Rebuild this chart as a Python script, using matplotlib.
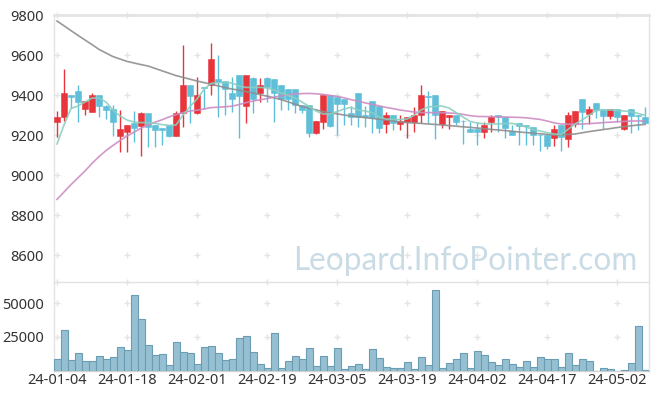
import matplotlib
matplotlib.use("Agg")
import matplotlib.pyplot as plt

# 일봉 데이터
opens = [9267, 9288, 9400, 9420, 9330, 9317, 9400, 9345, 9330, 9197,
         9217, 9258, 9247, 9308, 9250, 9233, 9250, 9197, 9308, 9450,
         9308, 9440, 9450, 9480, 9470, 9408, 9500, 9345, 9487, 9408,
         9487, 9480, 9450, 9428, 9428, 9350, 9350, 9208, 9267, 9400,
         9392, 9380, 9308, 9408, 9300, 9370, 9345, 9255, 9300, 9255,
         9267, 9267, 9300, 9397, 9400, 9255, 9288, 9300, 9272, 9230,
         9230, 9217, 9267, 9300, 9288, 9220, 9258, 9250, 9238, 9202,
         9200, 9187, 9250, 9178, 9253, 9380, 9305, 9358, 9330, 9297,
         9330, 9228, 9330, 9300, 9292]
highs = [9322, 9530, 9402, 9450, 9370, 9408, 9402, 9348, 9350, 9325,
         9252, 9320, 9315, 9308, 9252, 9235, 9252, 9320, 9650, 9450,
         9490, 9442, 9660, 9600, 9472, 9490, 9502, 9502, 9490, 9487,
         9490, 9482, 9452, 9430, 9430, 9352, 9352, 9272, 9400, 9402,
         9394, 9382, 9345, 9410, 9345, 9372, 9347, 9317, 9302, 9300,
         9290, 9340, 9450, 9420, 9402, 9322, 9302, 9302, 9273, 9267,
         9267, 9263, 9300, 9302, 9290, 9250, 9260, 9252, 9240, 9204,
         9202, 9250, 9252, 9317, 9322, 9382, 9345, 9360, 9332, 9332,
         9332, 9302, 9332, 9302, 9342]
lows = [9192, 9268, 9333, 9267, 9300, 9315, 9290, 9280, 9195, 9115,
        9117, 9165, 9097, 9142, 9142, 9150, 9190, 9195, 9240, 9262,
        9305, 9330, 9400, 9290, 9300, 9317, 9185, 9258, 9308, 9367,
        9367, 9267, 9325, 9325, 9308, 9308, 9190, 9206, 9230, 9240,
        9200, 9250, 9250, 9242, 9240, 9212, 9212, 9212, 9225, 9225,
        9183, 9217, 9258, 9258, 9178, 9233, 9230, 9250, 9155, 9215,
        9150, 9183, 9217, 9217, 9183, 9198, 9150, 9150, 9150, 9122,
        9130, 9147, 9122, 9142, 9242, 9228, 9257, 9283, 9228, 9278,
        9265, 9226, 9208, 9225, 9255]
closes = [9290, 9408, 9388, 9367, 9370, 9400, 9345, 9325, 9267, 9230,
          9250, 9237, 9308, 9240, 9227, 9226, 9197, 9308, 9450, 9395,
          9400, 9435, 9580, 9465, 9428, 9378, 9395, 9500, 9378, 9450,
          9438, 9408, 9378, 9378, 9350, 9325, 9208, 9272, 9400, 9247,
          9355, 9355, 9288, 9288, 9288, 9283, 9237, 9300, 9258, 9272,
          9288, 9300, 9400, 9392, 9300, 9320, 9300, 9267, 9268, 9217,
          9217, 9250, 9292, 9288, 9237, 9200, 9247, 9245, 9200, 9198,
          9147, 9230, 9188, 9300, 9320, 9317, 9330, 9325, 9297, 9330,
          9288, 9300, 9297, 9296, 9258]
volumes = [8400, 30000, 7600, 12800, 6900, 6900, 10600, 8400, 9800, 17300,
           15100, 56100, 38200, 18800, 11300, 12100, 3900, 21000, 13600, 12800,
           4600, 17300, 18100, 12800, 7600, 8400, 24000, 25500, 13600, 4600,
           1600, 27800, 1600, 6900, 10600, 8400, 16600, 3100, 10600, 3100,
           16600, 900, 3100, 4600, 900, 15800, 9100, 2400, 1600, 1600,
           6100, 900, 9800, 3900, 59800, 1600, 5400, 8400, 12800, 1600,
           14300, 11300, 6100, 3900, 8400, 4600, 2400, 6900, 2400, 9800,
           8400, 8400, 2400, 12800, 3900, 8400, 6900, 0, 1600, 900,
           0, 300, 5400, 33000, 400]

# 이동평균선
ma_short = [9155, 9250, 9333, 9345, 9365, 9385, 9385, 9365, 9325, 9295,
            9275, 9265, 9262, 9262, 9258, 9252, 9248, 9250, 9300, 9342,
            9380, 9428, 9458, 9462, 9462, 9460, 9445, 9438, 9438, 9438,
            9435, 9425, 9410, 9398, 9385, 9365, 9343, 9320, 9305, 9305,
            9317, 9330, 9338, 9325, 9320, 9312, 9290, 9280, 9278, 9278,
            9280, 9298, 9325, 9340, 9343, 9345, 9335, 9312, 9290, 9268,
            9260, 9256, 9255, 9256, 9257, 9258, 9250, 9240, 9228, 9220,
            9212, 9205, 9202, 9228, 9255, 9275, 9298, 9322, 9325, 9325,
            9323, 9320, 9316, 9308, 9298]
ma_mid = [8878, 8915, 8952, 8986, 9020, 9058, 9092, 9122, 9148, 9172,
          9195, 9214, 9234, 9250, 9264, 9276, 9290, 9302, 9312, 9320,
          9324, 9330, 9337, 9339, 9341, 9344, 9352, 9362, 9370, 9376,
          9382, 9389, 9396, 9402, 9405, 9407, 9408, 9406, 9403, 9398,
          9393, 9386, 9377, 9369, 9361, 9353, 9346, 9338, 9332, 9325,
          9320, 9315, 9312, 9312, 9312, 9311, 9310, 9308, 9303, 9297,
          9293, 9292, 9292, 9291, 9290, 9289, 9288, 9286, 9282, 9278,
          9270, 9261, 9255, 9254, 9253, 9255, 9257, 9259, 9262, 9264,
          9266, 9268, 9270, 9270, 9270]
ma_long = [9770, 9746, 9722, 9698, 9675, 9652, 9628, 9610, 9592, 9580,
           9568, 9560, 9552, 9545, 9533, 9521, 9509, 9497, 9488, 9479,
           9470, 9462, 9454, 9446, 9437, 9430, 9424, 9417, 9410, 9402,
           9394, 9386, 9377, 9366, 9354, 9343, 9334, 9326, 9317, 9311,
           9306, 9300, 9295, 9291, 9287, 9283, 9279, 9275, 9270, 9266,
           9262, 9260, 9258, 9255, 9253, 9250, 9247, 9244, 9241, 9238,
           9235, 9232, 9228, 9225, 9222, 9219, 9215, 9212, 9209, 9206,
           9203, 9200, 9201, 9203, 9205, 9211, 9217, 9222, 9227, 9232,
           9237, 9242, 9246, 9250, 9253]

date_labels = ['24-01-04', '24-01-18', '24-02-01', '24-02-19', '24-03-05',
               '24-03-19', '24-04-02', '24-04-17', '24-05-02']
price_ticks = [8600, 8800, 9000, 9200, 9400, 9600, 9800]
vol_ticks = [25000, 50000]

plt.rcParams['font.family'] = ['Noto Sans', 'DejaVu Sans']

UP = '#e8353b'
DOWN = '#5fbfd9'
n = len(closes)
xs = list(range(n))
label_pos = list(range(0, n, 10))[:len(date_labels)]

fig = plt.figure(figsize=(6.57, 4.0), dpi=100)
W, H = 657, 400
ax = fig.add_axes([53.5 / W, (H - 282) / H, 595 / W, 267 / H])
axv = fig.add_axes([53.5 / W, (H - 370.5) / H, 595 / W, 88.5 / H])

# 캔들
for i in xs:
    c = UP if closes[i] > opens[i] else DOWN
    ax.vlines(i, lows[i], highs[i], color=c, lw=1.0, zorder=3)
    lo = min(opens[i], closes[i])
    h = max(abs(closes[i] - opens[i]), 3)
    ax.bar(i, h, bottom=lo, width=0.72, color=c, edgecolor=c, lw=0.4, zorder=4)

# 이동평균선
ax.plot(xs, ma_long, color='#8e8e8e', lw=1.2, alpha=0.9, zorder=5)
ax.plot(xs, ma_mid, color='#cc8cc4', lw=1.2, alpha=0.9, zorder=5)
ax.plot(xs, ma_short, color='#8ccfc0', lw=1.2, alpha=0.9, zorder=5)

ax.set_xlim(-0.5, n - 0.5)
ax.set_ylim(8465, 9800)
ax.set_yticks(price_ticks)
ax.set_xticks([])
ax.tick_params(axis='y', length=0, pad=7, labelsize=10.5, labelcolor='#333333')

# 격자 대신 '+' 표시
for yv in price_ticks:
    ax.plot(label_pos, [yv] * len(label_pos), '+', color='#e4e4e4', ms=4, mew=1, zorder=1, clip_on=False)

ax.text(0.982, 0.045, 'Leopard.InfoPointer.com', transform=ax.transAxes,
        ha='right', va='baseline', fontsize=22.7, color='#c9dce6',
        family=['Lato', 'DejaVu Sans'], zorder=2)

# 거래량
axv.bar(xs, volumes, width=1.0, color='#96c0d1', edgecolor='#6a9db3', lw=0.8, zorder=3)
axv.set_xlim(-0.5, n - 0.5)
axv.set_ylim(0, 66000)
axv.set_yticks(vol_ticks)
axv.set_xticks(label_pos)
axv.set_xticklabels(date_labels)
axv.tick_params(axis='both', length=0, labelsize=10.5, labelcolor='#333333')
axv.tick_params(axis='y', pad=7)
axv.tick_params(axis='x', pad=2)
for yv in vol_ticks + [66000]:
    axv.plot(label_pos, [yv] * len(label_pos), '+', color='#e4e4e4', ms=4, mew=1, zorder=1, clip_on=False)

for a in (ax, axv):
    for s in a.spines.values():
        s.set_color('#e3e3e3')
        s.set_linewidth(1.0)
ax.spines['top'].set_linewidth(2.0)
ax.spines['bottom'].set_visible(False)
axv.spines['bottom'].set_color('#d0d0d0')

fig.savefig('out.png', dpi=100, facecolor='white')
